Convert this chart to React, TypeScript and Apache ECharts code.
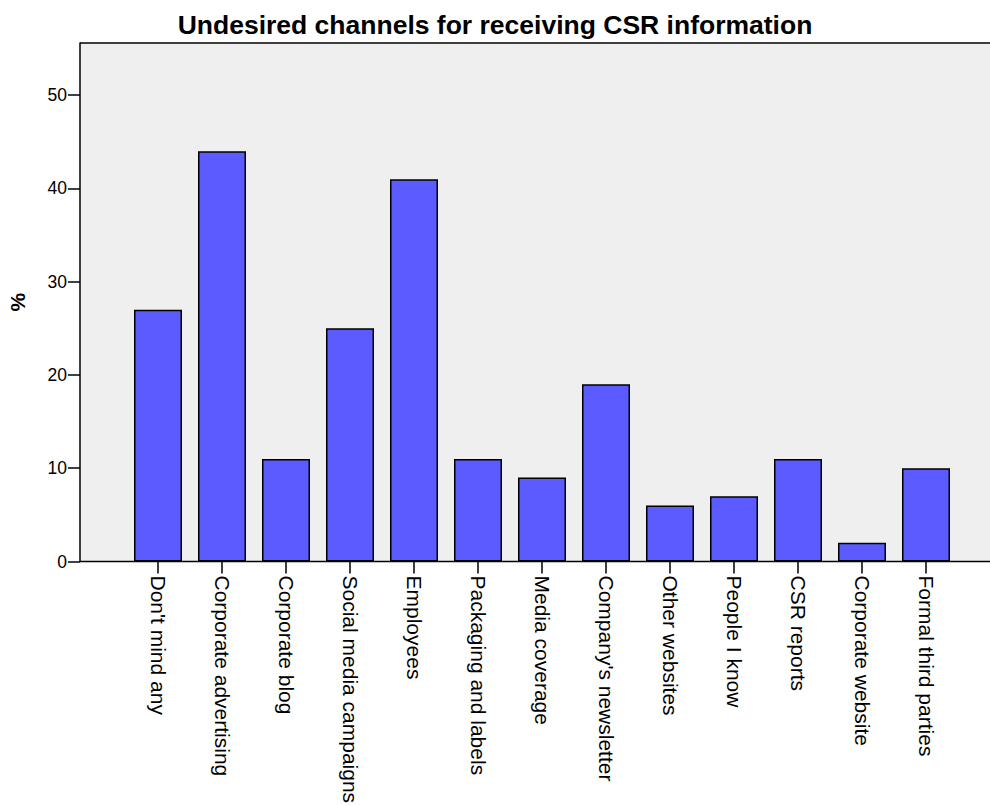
import React, { useEffect, useRef } from "react";
import * as echarts from "echarts";

const categories = [
  "Don't mind any",
  "Corporate advertising",
  "Corporate blog",
  "Social media campaigns",
  "Employees",
  "Packaging and labels",
  "Media coverage",
  "Company's newsletter",
  "Other websites",
  "People I know",
  "CSR reports",
  "Corporate website",
  "Formal third parties",
];
const values = [27, 44, 11, 25, 41, 11, 9, 19, 6, 7, 11, 2, 10];
const yTicks = [0, 10, 20, 30, 40, 50];
const yMax = 55.6;

const TOP = 43;
const BOTTOM_Y = 561.5;
const PLOT_LEFT = 80;
const PLOT_RIGHT = 990;

export default function App() {
  const ref = useRef<HTMLDivElement>(null);
  useEffect(() => {
    if (!ref.current) return;
    const chart = echarts.init(ref.current, null, { renderer: "svg" });
    chart.setOption({
      animation: false,
      backgroundColor: "#ffffff",
      textStyle: { fontFamily: "Liberation Sans, Arial, sans-serif" },
      title: {
        text: "Undesired channels for receiving CSR information",
        left: "center",
        top: 6,
        textStyle: {
          fontSize: 26.5,
          fontWeight: "bold",
          color: "#000",
          fontFamily: "Liberation Sans, Arial, sans-serif",
        },
      },
      grid: {
        left: 126,
        right: 32,
        top: TOP,
        bottom: 806 - BOTTOM_Y,
        containLabel: false,
        outerBoundsMode: "none",
      },
      graphic: [
        {
          type: "rect",
          z: -10,
          silent: true,
          shape: {
            x: PLOT_LEFT,
            y: TOP,
            width: PLOT_RIGHT - PLOT_LEFT,
            height: BOTTOM_Y - TOP,
          },
          style: { fill: "#efefef" },
        },
        {
          type: "line",
          z: 10,
          silent: true,
          shape: { x1: PLOT_LEFT, y1: TOP, x2: PLOT_RIGHT, y2: TOP },
          style: { stroke: "#000", lineWidth: 1.5 },
        },
        {
          type: "line",
          z: 10,
          silent: true,
          shape: { x1: PLOT_LEFT, y1: BOTTOM_Y, x2: PLOT_RIGHT, y2: BOTTOM_Y },
          style: { stroke: "#000", lineWidth: 1.5 },
        },
      ],
      xAxis: {
        type: "category",
        data: categories,
        boundaryGap: true,
        axisLine: { show: false },
        axisTick: {
          show: true,
          alignWithLabel: true,
          length: 12,
          lineStyle: { color: "#000", width: 1.5 },
        },
        axisLabel: {
          rotate: -90,
          interval: 0,
          margin: 14,
          fontSize: 21,
          color: "#000",
          fontFamily: "Liberation Sans, Arial, sans-serif",
        },
        splitLine: { show: false },
      },
      yAxis: {
        type: "value",
        min: 0,
        max: yMax,
        interval: 10,
        offset: 46,
        name: "%",
        nameLocation: "middle",
        nameGap: 52,
        nameRotate: 90,
        nameTextStyle: {
          fontSize: 21,
          fontWeight: "bold",
          color: "#000",
          fontFamily: "Liberation Sans, Arial, sans-serif",
        },
        axisLine: { show: true, lineStyle: { color: "#000", width: 1.5 } },
        axisTick: {
          show: true,
          length: 12,
          customValues: yTicks,
          lineStyle: { color: "#000", width: 1.5 },
        },
        axisLabel: {
          customValues: yTicks,
          margin: 13,
          fontSize: 17.5,
          color: "#000",
          fontFamily: "Liberation Sans, Arial, sans-serif",
        },
        splitLine: { show: false },
      },
      series: [
        {
          type: "bar",
          data: values,
          barWidth: 48,
          itemStyle: {
            color: "#5b5bff",
            borderColor: "#000",
            borderWidth: 1.5,
          },
        },
      ],
    });
    return () => chart.dispose();
  }, []);
  return (
    <div
      ref={ref}
      style={{ position: "absolute", left: 0, top: 0, width: 990, height: 806 }}
    />
  );
}
